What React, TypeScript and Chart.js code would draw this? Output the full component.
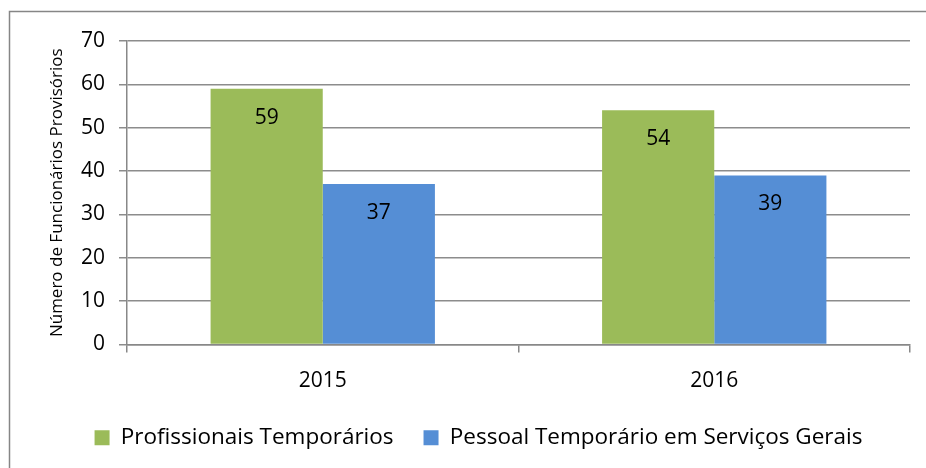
import React, { useEffect, useRef } from "react";
import { Chart, registerables } from "chart.js";

Chart.register(...registerables);

const categories = ["2015", "2016"];
const profissionais = [59, 54];
const pessoal = [37, 39];
const seriesNames = ["Profissionais Temporários", "Pessoal Temporário em Serviços Gerais"];
const yTitle = "Número de Funcionários Provisórios";
const FONT = "'Open Sans', sans-serif";

const labelPlugin = {
  id: "valueLabels",
  afterDatasetsDraw(chart: any) {
    const ctx = chart.ctx;
    ctx.save();
    ctx.font = `21px ${FONT}`;
    ctx.fillStyle = "#000";
    ctx.textAlign = "center";
    ctx.textBaseline = "middle";
    chart.data.datasets.forEach((ds: any, i: number) => {
      const meta = chart.getDatasetMeta(i);
      meta.data.forEach((bar: any, j: number) => {
        ctx.fillText(String(ds.data[j]), bar.x, bar.y + 29);
      });
    });
    ctx.restore();
  },
};

const borderPlugin = {
  id: "outerBorder",
  beforeDraw(chart: any) {
    const ctx = chart.ctx;
    ctx.save();
    ctx.fillStyle = "#fff";
    ctx.fillRect(0, 0, chart.width, chart.height);
    ctx.strokeStyle = "#868686";
    ctx.lineWidth = 1.5;
    ctx.strokeRect(9.5, 11.5, chart.width + 10, chart.height + 10);
    ctx.restore();
  },
};

export default function App() {
  const ref = useRef<HTMLCanvasElement>(null);
  useEffect(() => {
    if (!ref.current) return;
    const chart = new Chart(ref.current, {
      type: "bar",
      data: {
        labels: categories,
        datasets: [
          { label: seriesNames[0], data: profissionais, backgroundColor: "#9BBB59", borderWidth: 0 },
          { label: seriesNames[1], data: pessoal, backgroundColor: "#558ED5", borderWidth: 0 },
        ],
      },
      options: {
        responsive: false,
        animation: false,
        layout: { padding: { left: 47, right: 16, top: 41, bottom: 9 } },
        datasets: { bar: { categoryPercentage: 0.573, barPercentage: 1 } } as any,
        plugins: {
          legend: {
            position: "bottom",
            labels: {
              font: { family: FONT, size: 22.5 },
              color: "#000",
              boxWidth: 15,
              boxHeight: 15,
              padding: 30,
            },
          },
          tooltip: { enabled: false },
        },
        scales: {
          x: {
            grid: { drawOnChartArea: false, drawTicks: true, tickLength: 8, color: "#888", lineWidth: 1.5 },
            border: { color: "#888", width: 1.5 },
            ticks: { font: { family: FONT, size: 21 }, color: "#000", padding: 16 },
            afterFit(scale: any) { scale.height = 52; },
          },
          y: {
            min: 0,
            max: 70,
            ticks: { stepSize: 10, font: { family: FONT, size: 21 }, color: "#000", padding: 14 },
            grid: { color: "#8c8c8c", lineWidth: 1.5, tickLength: 8 },
            border: { color: "#888", width: 1.5 },
            title: { display: true, text: yTitle, font: { family: FONT, size: 17 }, color: "#000", padding: 0 },
            afterFit(scale: any) { scale.width = 80; },
          },
        },
      },
      plugins: [borderPlugin, labelPlugin],
    });
    return () => chart.destroy();
  }, []);
  return (
    <div style={{ position: "absolute", left: 0, top: 0, width: 926, height: 468 }}>
      <canvas ref={ref} width={926} height={468} style={{ display: "block" }} />
    </div>
  );
}
